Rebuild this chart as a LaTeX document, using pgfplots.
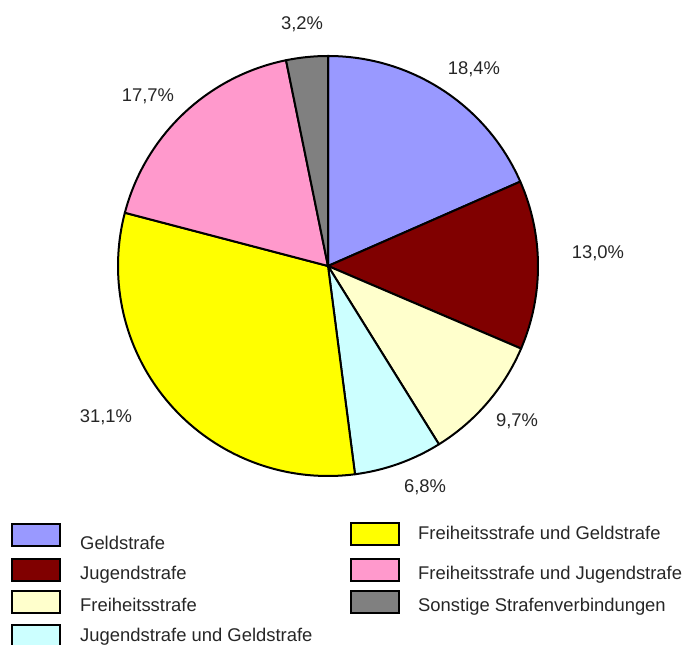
\documentclass[border=0pt]{standalone}
\usepackage{pgfplots}
\usepackage{pgfplotstable}
\pgfplotsset{compat=1.18}
\usepackage{fontspec}
\setmainfont{Liberation Sans}
\definecolor{cGeld}{HTML}{9999FF}
\definecolor{cJug}{HTML}{800000}
\definecolor{cFrei}{HTML}{FFFFCC}
\definecolor{cJuG}{HTML}{CCFFFF}
\definecolor{cFuG}{HTML}{FFFF00}
\definecolor{cFuJ}{HTML}{FF99CC}
\definecolor{cSon}{HTML}{808080}
% value in percent; lx,ly: label position; bx,by: legend box centre; tx,ty: legend text (image pixels, y down)
\pgfplotstableread[col sep=comma]{
name,value,col,lx,ly,bx,by,tx,ty
Geldstrafe,18.4,cGeld,474,68,36,535,80,543
Jugendstrafe,13.0,cJug,598,252,36,570,80,573
Freiheitsstrafe,9.7,cFrei,517,420,36,602.5,80,605
Jugendstrafe und Geldstrafe,6.8,cJuG,425,486,36,636,80,635
Freiheitsstrafe und Geldstrafe,31.1,cFuG,106,416,374.5,534.5,418,533
Freiheitsstrafe und Jugendstrafe,17.7,cFuJ,148,95,374.5,570.5,418,573
Sonstige Strafenverbindungen,3.2,cSon,302,23,374.5,602,418,605
}\piedata
\tikzset{lbl/.style={font=\fontsize{18.4bp}{22bp}\selectfont, inner sep=0pt, text height=13.1bp, text depth=0pt, text=black!85}}
\begin{document}
\begin{tikzpicture}
\begin{axis}[x=1bp, y=1bp, xmin=0, xmax=687, ymin=0, ymax=645,
  scale only axis, hide axis, clip=false]
\pgfplotsextra{
  \coordinate (ll) at (axis cs:0,0);
  \coordinate (ur) at (axis cs:687,645);
  % total
  \gdef\pietotal{0}
  \foreach \i in {0,...,6}{
    \pgfplotstablegetelem{\i}{value}\of\piedata
    \pgfmathsetmacro\t{\pietotal+\pgfplotsretval}
    \xdef\pietotal{\t}
  }
  \gdef\curang{90}
  \foreach \i in {0,...,6}{
    \pgfplotstablegetelem{\i}{value}\of\piedata \edef\v{\pgfplotsretval}
    \pgfplotstablegetelem{\i}{col}\of\piedata \edef\c{\pgfplotsretval}
    \pgfplotstablegetelem{\i}{name}\of\piedata \edef\nm{\pgfplotsretval}
    \pgfplotstablegetelem{\i}{lx}\of\piedata \edef\lx{\pgfplotsretval}
    \pgfplotstablegetelem{\i}{ly}\of\piedata \pgfmathsetmacro\ly{645-\pgfplotsretval}
    \pgfplotstablegetelem{\i}{bx}\of\piedata \edef\bx{\pgfplotsretval}
    \pgfplotstablegetelem{\i}{by}\of\piedata \pgfmathsetmacro\by{645-\pgfplotsretval}
    \pgfplotstablegetelem{\i}{tx}\of\piedata \edef\tx{\pgfplotsretval}
    \pgfplotstablegetelem{\i}{ty}\of\piedata \pgfmathsetmacro\ty{645-\pgfplotsretval}
    \pgfmathsetmacro\a{\curang}
    \pgfmathsetmacro\b{\curang-\v*360/\pietotal}
    \fill[fill=\c, draw=black, line width=2bp, line join=round]
      (axis cs:328,379) -- ++(\a:210bp) arc[start angle=\a, end angle=\b, radius=210bp] -- cycle;
    \xdef\curang{\b}
    \node[lbl] at (axis cs:\lx,\ly) {\pgfmathprintnumber[fixed, fixed zerofill, precision=1, use comma, assume math mode=true]{\v}\%};
    \pgfmathsetmacro\xa{\bx-24}\pgfmathsetmacro\xb{\bx+24}
    \pgfmathsetmacro\ya{\by-11}\pgfmathsetmacro\yb{\by+11}
    \draw[fill=\c, line width=2bp] (axis cs:\xa,\ya) rectangle (axis cs:\xb,\yb);
    \node[lbl, anchor=west] at (axis cs:\tx,\ty) {\nm};
  }
}
\end{axis}
\pgfresetboundingbox
\useasboundingbox (ll) rectangle (ur);
\end{tikzpicture}
\end{document}
